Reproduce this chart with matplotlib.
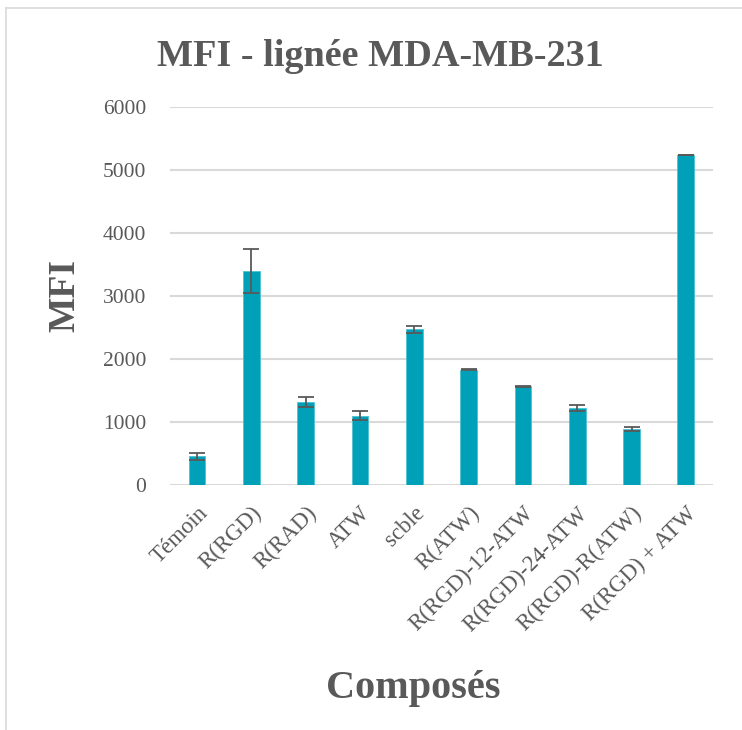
import numpy as np
import matplotlib
matplotlib.use("Agg")
import matplotlib.pyplot as plt
from matplotlib.lines import Line2D

# ------------------------
# Data
# ------------------------
categories = ["Témoin", "R(RGD)", "R(RAD)", "ATW", "scble", "R(ATW)",
              "R(RGD)-12-ATW", "R(RGD)-24-ATW", "R(RGD)-R(ATW)", "R(RGD) + ATW"]
mfi = [450, 3400, 1320, 1095, 2470, 1825, 1565, 1222, 885, 5240]
mfi_err = [50, 355, 80, 70, 60, 8, 8, 50, 35, 5]
yticks = [0, 1000, 2000, 3000, 4000, 5000, 6000]

# ------------------------
# Style
# ------------------------
text_color = "#595959"
grid_color = "#d9d9d9"
bar_color = "#00a0b9"
serif = ["Liberation Serif", "DejaVu Serif"]

fig = plt.figure(figsize=(7.42, 7.30), dpi=100)
ax = fig.add_axes([0.229, 0.336, 0.732, 0.517])

x = np.arange(len(categories))
ax.bar(x, mfi, width=0.31, color=bar_color, edgecolor="#4cc2d2", linewidth=0.6,
       zorder=3)
ax.errorbar(x, mfi, yerr=mfi_err, fmt="none", ecolor=text_color, elinewidth=1.3,
            capsize=6, capthick=1.3, zorder=4)

ax.set_xlim(-0.5, len(categories) - 0.5)
ax.set_ylim(0, 6000)
ax.set_yticks(yticks)
ax.set_yticklabels([str(t) for t in yticks], fontsize=15.5, color=text_color,
                   family=serif)
ax.set_xticks(x)
ax.set_xticklabels(categories, rotation=45, ha="right", rotation_mode="anchor",
                   fontsize=16.5, color=text_color, family=serif)

ax.yaxis.grid(True, color=grid_color, linewidth=1.5, zorder=0)
ax.xaxis.grid(False)
for s in ax.spines.values():
    s.set_visible(False)
ax.tick_params(axis="both", length=0)
ax.tick_params(axis="y", pad=17)
ax.tick_params(axis="x", pad=13)

fig.text(0.512, 0.923, "MFI - lignée MDA-MB-231", ha="center", va="center",
         fontsize=27.5, fontweight="bold", color=text_color, family=serif)
fig.text(0.088, 0.595, "MFI", ha="center", va="center", rotation=90,
         fontsize=27, fontweight="bold", color=text_color, family=serif)
fig.text(0.557, 0.057, "Composés", ha="center", va="center",
         fontsize=29, fontweight="bold", color=text_color, family=serif)

# chart area border (left and top visible)
fig.add_artist(Line2D([0.008, 0.008], [0.0, 0.989], color=grid_color,
                      linewidth=1.2, transform=fig.transFigure))
fig.add_artist(Line2D([0.008, 1.0], [0.989, 0.989], color=grid_color,
                      linewidth=1.2, transform=fig.transFigure))

fig.savefig("out.png", dpi=100)
